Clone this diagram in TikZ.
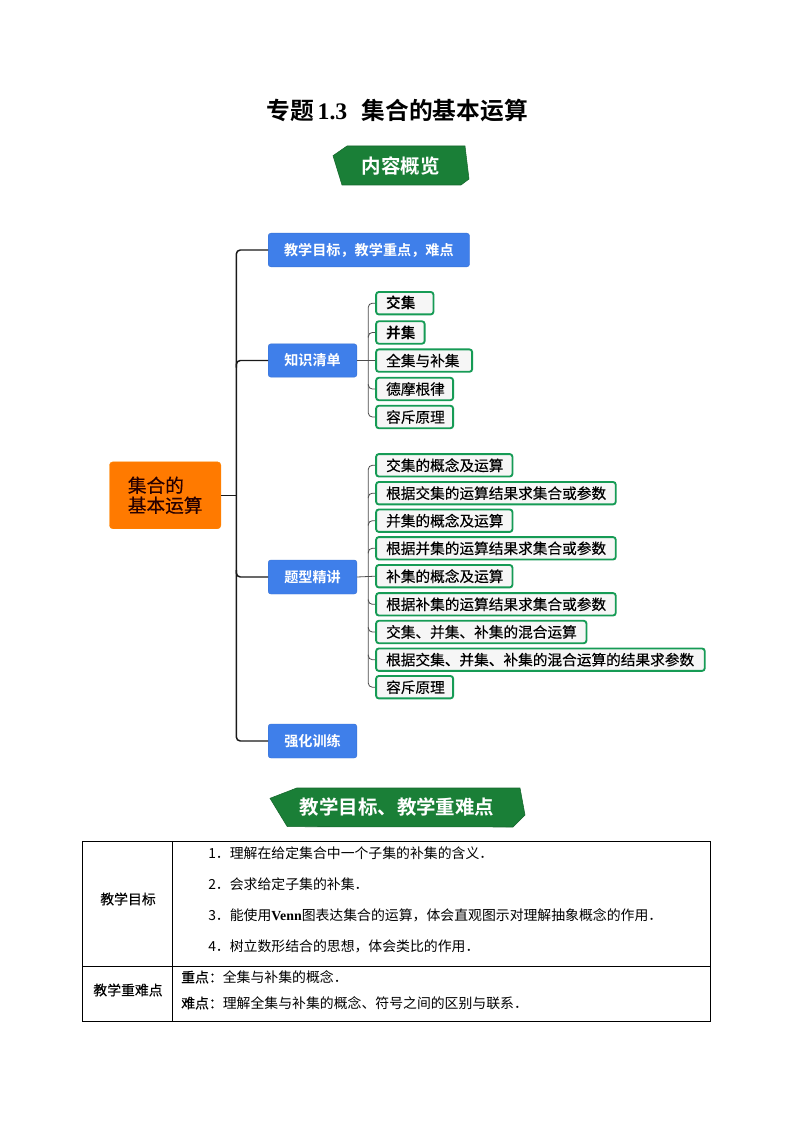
\documentclass[tikz,border=0pt]{standalone}
\usepackage{fontspec}
\usetikzlibrary{calc}
\setmainfont{Liberation Serif}
\newfontfamily\cjk{Noto Sans CJK SC}
\newfontfamily\cjkm[FakeBold=0.25]{Noto Sans CJK SC}
\newfontfamily\cjkb{Noto Sans CJK SC Bold}
\definecolor{bannergreen}{HTML}{1A7F37}
\definecolor{boxblue}{HTML}{3F7FEA}
\definecolor{boxorange}{HTML}{FF7A00}
\definecolor{boxgreen}{HTML}{169B55}
\definecolor{boxfill}{HTML}{F6F6F6}
\newcommand{\pxfont}[1]{\fontsize{#1}{#1}\selectfont}
\tikzset{
  bluebox/.style={fill=boxblue,draw=boxblue!90!black,line width=0.3pt,rounded corners=2pt,text=white,inner sep=0pt,font=\cjkb\pxfont{10.6},anchor=west},
  greenbox/.style={fill=boxfill,draw=boxgreen,line width=1.4pt,rounded corners=2pt,inner xsep=0pt,inner ysep=0pt,align=left,anchor=west,font=\cjkm\pxfont{11}},
  rootbox/.style={fill=boxorange,draw=boxorange!90!yellow,line width=0.3pt,rounded corners=2.5pt,inner sep=0pt,align=left,anchor=west,font=\cjkm\fontsize{14}{15}\selectfont,text=black!85!red},
  banner/.style={fill=bannergreen,draw=bannergreen!80!black,line width=0.4pt},
  bannertext/.style={text=white,inner sep=0pt,font=\cjkb\pxfont{14.6}},
  mainline/.style={draw=black!90,line width=1.1pt,rounded corners=3pt},
  subline/.style={draw=black!70,line width=0.6pt,rounded corners=3pt},
  grid/.style={draw=black,line width=0.6pt},
  celltext/.style={inner sep=0pt,anchor=west,font=\cjk\pxfont{10.4}},
  cellmid/.style={inner sep=0pt,font=\cjkm\pxfont{10.4}},
}
% name, left x, mid y, width, text
\newcommand{\greennode}[5]{%
  \pgfmathsetmacro{\wpt}{(#4-1)*0.75}%
  \pgfmathsetmacro{\tw}{(#4-21)*0.75}%
  \node[greenbox,minimum width=\wpt pt,minimum height=16.8pt,text width=\tw pt] (#1) at (#2,#3) {#5};}
\begin{document}
\begin{tikzpicture}[x=0.75pt,y=-0.75pt]
\useasboundingbox (0,0) rectangle (794,1123);
\fill[white] (0,0) rectangle (794,1123);
% title
\node[inner sep=0pt,font=\pxfont{17.8}] (title) at (397,110.5) {{\cjkb 专题}\,\textbf{1.3}\hspace{0.6em}{\cjkb 集合的基本运算}};
% banner 1
\fill[banner] (333,155.7) -- (347,146) -- (465,146) -- (469,179) -- (461,185) -- (342,185) -- cycle;
\node[bannertext] (bannerone) at (400.7,166) {内容概览};
% root
\node[rootbox,minimum width=83.5pt,minimum height=50.2pt,text width=56pt] (root) at (109.3,495.3) {集合的\\基本运算};
% level one
\node[bluebox,minimum width=151pt,minimum height=25.2pt] (bA) at (268,250) {教学目标，教学重点，难点};
\node[bluebox,minimum width=66.5pt,minimum height=25pt] (bB) at (268,360.5) {知识清单};
\node[bluebox,minimum width=66.5pt,minimum height=25.5pt] (bC) at (268,577) {题型精讲};
\node[bluebox,minimum width=66.5pt,minimum height=25.5pt] (bD) at (268,741) {强化训练};
\coordinate (sp) at (236.3,0);
\draw[mainline] (bA.west) -- (sp|-bA.west) -- (sp|-bD.west) -- (bD.west);
\draw[mainline] (root.east) -- (sp|-root.east);
\draw[mainline] ($(sp|-bB.west)+(0,7)$) -- (sp|-bB.west) -- (bB.west);
\draw[mainline] ($(sp|-bC.west)+(0,-7)$) -- (sp|-bC.west) -- (bC.west);
% group one
\greennode{kA}{375.2}{303.2}{58.3}{\cjkb 交集}
\greennode{kB}{375.2}{332.5}{49.5}{\cjkb 并集}
\greennode{kC}{375.2}{360.6}{97}{全集与补集}
\greennode{kD}{375.2}{389}{78}{德摩根律}
\greennode{kE}{375.2}{417}{78}{容斥原理}
\coordinate (st) at (368.3,0);
\draw[subline] (kA.west) -- (st|-kA.west) -- (st|-kE.west) -- (kE.west);
\draw[subline] (bB.east) -- (kC.west);
\draw[subline] ($(st|-kB.west)+(0,5)$) -- (st|-kB.west) -- (kB.west);
\draw[subline] ($(st|-kD.west)+(0,-5)$) -- (st|-kD.west) -- (kD.west);
% group two
\greennode{qA}{375.2}{465.3}{137.3}{交集的概念及运算}
\greennode{qB}{375.2}{493.2}{240.6}{根据交集的运算结果求集合或参数}
\greennode{qC}{375.2}{520.7}{137.3}{并集的概念及运算}
\greennode{qD}{375.2}{548.3}{240.6}{根据并集的运算结果求集合或参数}
\greennode{qE}{375.2}{576.2}{137.3}{补集的概念及运算}
\greennode{qF}{375.2}{604.3}{240.6}{根据补集的运算结果求集合或参数}
\greennode{qG}{375.2}{632}{211.3}{交集、并集、补集的混合运算}
\greennode{qH}{375.2}{659.7}{329.6}{根据交集、并集、补集的混合运算的结果求参数}
\greennode{qI}{375.2}{687.2}{78}{容斥原理}
\draw[subline] (qA.west) -- (st|-qA.west) -- (st|-qI.west) -- (qI.west);
\draw[subline] (bC.east) -- (qE.west);
\foreach \n in {qB,qC,qD}{\draw[subline] ($(st|-\n.west)+(0,5)$) -- (st|-\n.west) -- (\n.west);}
\foreach \n in {qF,qG,qH}{\draw[subline] ($(st|-\n.west)+(0,-5)$) -- (st|-\n.west) -- (\n.west);}
% banner 2
\fill[banner] (270,798.3) -- (296.7,788) -- (520,788) -- (525,815) -- (513,827) -- (287.3,826.7) -- cycle;
\node[bannertext] (bannertwo) at (397,807.5) {教学目标、教学重难点};
% table
\draw[grid] (82.7,841.3) rectangle (710.5,1021.3);
\draw[grid] (82.7,966) -- (710.5,966);
\draw[grid] (172.7,841.3) -- (172.7,1021.3);
\node[cellmid] (cA) at (128,899) {教学目标};
\node[cellmid] (cB) at (128,990) {教学重难点};
\node[celltext] (tA) at (208,853) {1．理解在给定集合中一个子集的补集的含义．};
\node[celltext] (tB) at (208,884) {2．会求给定子集的补集．};
\node[celltext] (tC) at (208,915) {3．能使用{\rmfamily\bfseries Venn}图表达集合的运算，体会直观图示对理解抽象概念的作用．};
\node[celltext] (tD) at (208,946) {4．树立数形结合的思想，体会类比的作用．};
\node[celltext] (tE) at (181,977) {{\cjkm 重点：}全集与补集的概念．};
\node[celltext] (tF) at (181,1003) {{\cjkm 难点：}理解全集与补集的概念、符号之间的区别与联系．};
\end{tikzpicture}
\end{document}
